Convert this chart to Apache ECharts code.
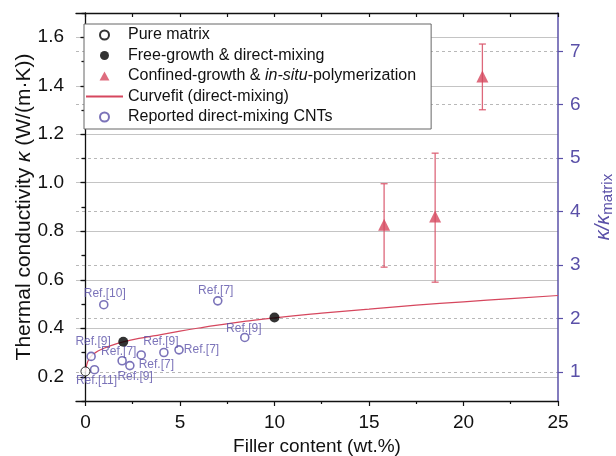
<!DOCTYPE html>
<html>
<head>
<meta charset="utf-8">
<script src="https://cdn.jsdelivr.net/npm/echarts@6/dist/echarts.min.js"></script>
<style>
  html, body { margin: 0; padding: 0; background: #fff; }
  #chart { width: 616px; height: 456px; }
</style>
</head>
<body>
<div id="chart"></div>
<script>
// values
var kMatrix = 0.2203; // W/(m.K), used for the ratio axis

var pureX = [0];
var pureY = [0.222];

var freeX = [2, 10];
var freeY = [0.344, 0.444];

var confX = [15.8, 18.5, 21];
var confY = [0.827, 0.861, 1.438];
var confLow = [0.652, 0.59, 1.301];
var confHigh = [0.996, 1.122, 1.572];

var fitX = [0, 0.05, 0.1, 0.2, 0.35, 0.5, 0.8, 1.2, 2, 3, 4, 5, 6, 7, 8.5, 10, 12.5, 15, 17.5, 20, 22.5, 25];
var fitY = [0.222, 0.243, 0.258, 0.274, 0.289, 0.298, 0.311, 0.324, 0.344, 0.36, 0.374, 0.388, 0.401, 0.413, 0.429, 0.443, 0.462, 0.479, 0.495, 0.509, 0.522, 0.535];

var refX = [0.30, 0.48, 1.94, 2.35, 2.95, 4.15, 4.95, 0.97, 7.0, 8.43];
var refY = [0.284, 0.229, 0.266, 0.246, 0.290, 0.300, 0.311, 0.497, 0.513, 0.362];
var refName = ['Ref.[9]', 'Ref.[11]', 'Ref.[9]', 'Ref.[7]', 'Ref.[7]', 'Ref.[9]', 'Ref.[7]', 'Ref.[10]', 'Ref.[7]', 'Ref.[9]'];

var xLabels = [0, 5, 10, 15, 20, 25];
var xMinor = [2.5, 7.5, 12.5, 17.5, 22.5];
var yLabels = [0.2, 0.4, 0.6, 0.8, 1.0, 1.2, 1.4, 1.6];
var yMinor = [0.1, 0.3, 0.5, 0.7, 0.9, 1.1, 1.3, 1.5, 1.7];
var ratioLabels = [1, 2, 3, 4, 5, 6, 7];

// label placement for the reference names (styling only)
var refLabelPos = [
  ['top', [2, -2]], ['bottom', [2, -2]], ['bottom', [13, 3]], ['right', [2, -1]],
  ['left', [2, -3]], ['top', [-3, 2]], ['right', [-2, 0]], ['top', [1, 2]],
  ['top', [-2, 3]], ['top', [-1, 4]]
];

var purple = '#5a50a8';
var red = '#d6475e';
var font = 'Liberation Sans, Arial, sans-serif';

function pairs(xs, ys) {
  return xs.map(function (x, i) { return [x, ys[i]]; });
}

var refData = refX.map(function (x, i) {
  return {
    value: [x, refY[i]],
    name: refName[i],
    label: { position: refLabelPos[i][0], offset: refLabelPos[i][1] }
  };
});
var errData = confX.map(function (x, i) { return [x, confLow[i], confHigh[i]]; });

var chart = echarts.init(document.getElementById('chart'));
var option = {
  animation: false,
  textStyle: { fontFamily: font },
  grid: { left: 76, right: 58, top: 13, bottom: 55, containLabel: false, outerBoundsMode: 'none' },
  legend: {
    orient: 'vertical',
    left: 84,
    top: 24,
    itemWidth: 37,
    itemHeight: 9,
    itemGap: 4.5,
    padding: [3, 15, 4, 1],
    borderColor: '#666',
    borderWidth: 1,
    backgroundColor: '#fff',
    symbolKeepAspect: true,
    textStyle: {
      fontFamily: font, fontSize: 16, color: '#111',
      rich: { i: { fontFamily: font, fontSize: 16, fontStyle: 'italic', color: '#111' } }
    },
    formatter: function (name) {
      if (name.indexOf('in-situ') >= 0) {
        return 'Confined-growth & {i|in-situ}-polymerization';
      }
      return name;
    },
    data: [
      'Pure matrix',
      'Free-growth & direct-mixing',
      { name: 'Confined-growth & in-situ-polymerization', icon: 'path://M5.5,0 L11,10 L0,10 Z' },
      { name: 'Curvefit (direct-mixing)', itemStyle: { color: 'rgba(0,0,0,0)', borderWidth: 0 } },
      'Reported direct-mixing CNTs'
    ]
  },
  xAxis: [
    {
      type: 'value', min: -0.5, max: 25, position: 'bottom',
      name: 'Filler content (wt.%)', nameLocation: 'middle', nameGap: 29,
      nameTextStyle: { fontFamily: font, fontSize: 19, color: '#111' },
      axisLine: { lineStyle: { color: '#111', width: 1.3 } },
      axisTick: { show: true, length: 5, customValues: xLabels, lineStyle: { color: '#111', width: 1.2 } },
      axisLabel: { customValues: xLabels, fontSize: 19, color: '#111', margin: 12 },
      splitLine: { show: false }
    },
    {
      type: 'value', min: -0.5, max: 25, position: 'bottom',
      axisLine: { show: false },
      axisTick: { show: true, length: 3, customValues: xMinor, lineStyle: { color: '#111', width: 1.2 } },
      axisLabel: { show: false },
      splitLine: { show: false }
    },
    {
      type: 'value', min: -0.5, max: 25, position: 'top',
      axisLine: { lineStyle: { color: '#111', width: 1.3 } },
      axisTick: { show: true, inside: true, length: 4, customValues: xLabels.concat(xMinor), lineStyle: { color: '#111', width: 1.2 } },
      axisLabel: { show: false },
      splitLine: { show: false }
    }
  ],
  yAxis: [
    {
      type: 'value', min: 0.1, max: 1.7, position: 'left',
      name: 'Thermal conductivity {i|κ} (W/(m·K))', nameLocation: 'middle', nameGap: 41,
      nameMoveOverlap: false,
      nameTextStyle: {
        fontFamily: font, fontSize: 21, color: '#111',
        rich: { i: { fontFamily: font, fontSize: 21, fontStyle: 'italic', color: '#111' } }
      },
      axisLine: { show: true, lineStyle: { color: '#111', width: 1.3 } },
      axisTick: { show: true, length: 5, customValues: yLabels, lineStyle: { color: '#111', width: 1.2 } },
      axisLabel: {
        customValues: yLabels, fontSize: 19, color: '#111', margin: 12,
        formatter: function (v) { return v.toFixed(1); }
      },
      splitLine: { show: true, lineStyle: { color: '#c4c4c4', width: 1.2 } }
    },
    {
      type: 'value', min: 0.1, max: 1.7, position: 'left',
      axisLine: { show: false },
      axisTick: { show: true, length: 3, customValues: yMinor, lineStyle: { color: '#111', width: 1.2 } },
      axisLabel: { show: false },
      splitLine: { show: false }
    },
    {
      type: 'value', min: 0.1, max: 1.7, position: 'right',
      axisLine: { show: false },
      axisTick: { show: true, inside: true, length: 4, customValues: yLabels.concat(yMinor), lineStyle: { color: '#111', width: 1.2 } },
      axisLabel: { show: false },
      splitLine: { show: false }
    },
    {
      type: 'value', min: 0.1 / kMatrix, max: 1.7 / kMatrix, position: 'right',
      name: '{k|κ/κ}{s|matrix}', nameLocation: 'middle', nameGap: 34, nameRotate: 90,
      nameMoveOverlap: false,
      nameTextStyle: {
        color: purple,
        rich: {
          k: { fontFamily: font, fontSize: 20, fontStyle: 'italic', color: purple },
          s: { fontFamily: font, fontSize: 15, color: purple, padding: [8, 0, 0, 0] }
        }
      },
      axisLine: { show: true, lineStyle: { color: purple, width: 1.5 } },
      axisTick: { show: true, length: 5, customValues: ratioLabels, lineStyle: { color: purple, width: 1.2 } },
      axisLabel: { customValues: ratioLabels, fontSize: 19, color: purple, margin: 12 },
      splitLine: { show: true, lineStyle: { color: '#b8b8b8', width: 1, type: [3, 3] } }
    }
  ],
  series: [
    {
      name: 'Curvefit (direct-mixing)',
      type: 'line',
      data: pairs(fitX, fitY),
      smooth: true,
      symbol: 'none',
      lineStyle: { color: red, width: 1.2 },
      itemStyle: { color: red },
      z: 3
    },
    {
      name: 'error bars',
      type: 'custom',
      data: errData,
      encode: { x: 0, y: [1, 2] },
      renderItem: function (params, api) {
        var x = api.value(0);
        var lo = api.coord([x, api.value(1)]);
        var hi = api.coord([x, api.value(2)]);
        var w = 3.5;
        var st = { stroke: '#d9566b', lineWidth: 1.3, opacity: 0.9 };
        return {
          type: 'group',
          children: [
            { type: 'line', shape: { x1: lo[0], y1: lo[1], x2: hi[0], y2: hi[1] }, style: st },
            { type: 'line', shape: { x1: lo[0] - w, y1: lo[1], x2: lo[0] + w, y2: lo[1] }, style: st },
            { type: 'line', shape: { x1: hi[0] - w, y1: hi[1], x2: hi[0] + w, y2: hi[1] }, style: st }
          ]
        };
      },
      z: 2
    },
    {
      name: 'Confined-growth & in-situ-polymerization',
      type: 'scatter',
      data: pairs(confX, confY),
      symbol: 'triangle',
      symbolSize: 12,
      itemStyle: { color: red },
      z: 4
    },
    {
      name: 'Reported direct-mixing CNTs',
      type: 'scatter',
      data: refData,
      symbol: 'circle',
      symbolSize: 8,
      itemStyle: { color: '#fff', borderColor: purple, borderWidth: 1.6 },
      label: {
        show: true, distance: 2, fontSize: 12, fontFamily: font, color: purple,
        formatter: function (p) { return p.name; }
      },
      z: 4
    },
    {
      name: 'Free-growth & direct-mixing',
      type: 'scatter',
      data: pairs(freeX, freeY),
      symbol: 'circle',
      symbolSize: 10,
      itemStyle: { color: '#000' },
      z: 5
    },
    {
      name: 'Pure matrix',
      type: 'scatter',
      data: pairs(pureX, pureY),
      symbol: 'circle',
      symbolSize: 9,
      itemStyle: { color: '#fff', borderColor: '#000', borderWidth: 1 },
      z: 5
    }
  ]
};
chart.setOption(option);
</script>
</body>
</html>
